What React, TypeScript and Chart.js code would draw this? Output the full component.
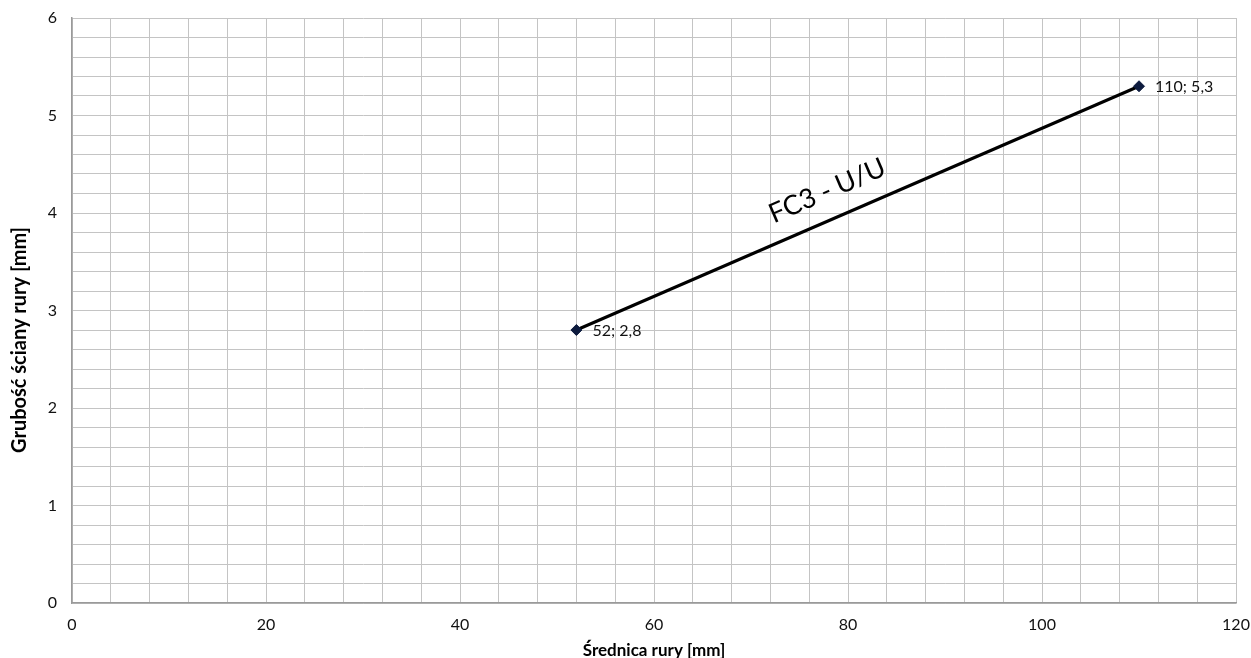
import React, { useEffect, useRef } from "react";
import { Chart, registerables } from "chart.js";

Chart.register(...registerables);

const xValues = [52, 110];
const yValues = [2.8, 5.3];
const pointLabels = ["52; 2,8", "110; 5,3"];
const seriesLabel = "FC3 - U/U";
const xTitle = "Średnica rury [mm]";
const yTitle = "Grubość ściany rury [mm]";
const xRange = [0, 120];
const yRange = [0, 6];

const FONT = "Lato, 'Open Sans', sans-serif";

const isWhole = (v: number) => Math.abs(v - Math.round(v)) < 1e-6;

const labelPlugin = {
  id: "customLabels",
  afterDatasetsDraw(chart: any) {
    const ctx = chart.ctx as CanvasRenderingContext2D;
    const meta = chart.getDatasetMeta(0);
    const area = chart.chartArea;
    ctx.save();
    ctx.font = `16px ${FONT}`;
    ctx.fillStyle = "#111";
    ctx.textBaseline = "middle";
    ctx.textAlign = "left";
    meta.data.forEach((pt: any, i: number) => {
      ctx.fillText(pointLabels[i], pt.x + 16, pt.y + 1);
    });
    const p0 = meta.data[0];
    const p1 = meta.data[1];
    const ang = Math.atan2(p1.y - p0.y, p1.x - p0.x);
    const t = (79 - xValues[0]) / (xValues[1] - xValues[0]);
    const mx = p0.x + (p1.x - p0.x) * t;
    const my = p0.y + (p1.y - p0.y) * t;
    const off = 28;
    const cx = mx + Math.sin(ang) * off;
    const cy = my - Math.cos(ang) * off;
    ctx.translate(cx, cy);
    ctx.rotate(ang);
    ctx.font = `27px ${FONT}`;
    ctx.fillStyle = "#000";
    ctx.textAlign = "center";
    ctx.textBaseline = "middle";
    ctx.fillText(seriesLabel, 0, 0);
    ctx.restore();

    ctx.save();
    ctx.fillStyle = "#000";
    ctx.font = `bold 17px ${FONT}`;
    ctx.textAlign = "center";
    ctx.textBaseline = "middle";
    ctx.fillText(xTitle, (area.left + area.right) / 2, 651);
    ctx.translate(20, 340);
    ctx.rotate(-Math.PI / 2);
    ctx.font = `bold 20px ${FONT}`;
    ctx.fillText(yTitle, 0, 0);
    ctx.restore();
  },
};

export default function App() {
  const ref = useRef<HTMLCanvasElement | null>(null);
  useEffect(() => {
    document.body.style.margin = "0";
    const canvas = ref.current!;
    const chart = new Chart(canvas, {
      type: "scatter",
      data: {
        datasets: [
          {
            label: seriesLabel,
            data: xValues.map((x, i) => ({ x, y: yValues[i] })),
            showLine: true,
            borderColor: "#000",
            borderWidth: 3,
            pointStyle: "rectRot",
            pointRadius: 5.5,
            pointBackgroundColor: "#0d1b3e",
            pointBorderColor: "#0d1b3e",
            pointBorderWidth: 1,
          },
        ],
      },
      options: {
        responsive: false,
        animation: false,
        layout: { padding: { top: 18, right: 15, left: 0, bottom: 0 } },
        plugins: { legend: { display: false }, tooltip: { enabled: false } },
        scales: {
          x: {
            type: "linear",
            min: xRange[0],
            max: xRange[1],
            afterFit: (s: any) => {
              s.height = 55;
              s.paddingLeft = 0;
              s.paddingRight = 0;
            },
            grid: { color: "#c4c4c4", lineWidth: 1, drawTicks: false },
            border: { color: "#9a9a9a", width: 1.5 },
            ticks: {
              stepSize: 4,
              autoSkip: false,
              maxRotation: 0,
              padding: 12,
              color: "#111",
              font: { family: FONT, size: 16 },
              callback: (v: any) => (isWhole(v / 20) ? String(Math.round(v)) : ""),
            },
          },
          y: {
            type: "linear",
            min: yRange[0],
            max: yRange[1],
            afterFit: (s: any) => {
              s.width = 72;
              s.paddingTop = 0;
              s.paddingBottom = 0;
            },
            grid: { color: "#c4c4c4", lineWidth: 1, drawTicks: false },
            border: { color: "#9a9a9a", width: 1.5 },
            ticks: {
              stepSize: 0.2,
              autoSkip: false,
              padding: 15,
              color: "#111",
              font: { family: FONT, size: 16 },
              callback: (v: any) => (isWhole(v) ? String(Math.round(v)) : ""),
            },
          },
        },
      },
      plugins: [labelPlugin],
    });
    return () => chart.destroy();
  }, []);
  return (
    <div style={{ width: 1251, height: 658, background: "#fff" }}>
      <canvas ref={ref} width={1251} height={658} style={{ display: "block" }} />
    </div>
  );
}
